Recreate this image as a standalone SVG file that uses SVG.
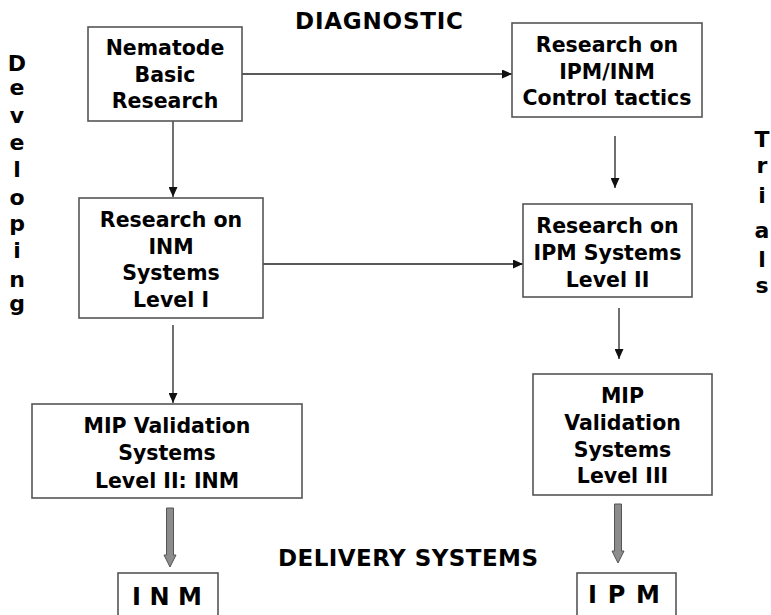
<svg xmlns="http://www.w3.org/2000/svg" width="771" height="615" viewBox="0 0 771 615">
<style>
.box{fill:#fff;stroke:#555;stroke-width:1.6}
.t{font-family:"DejaVu Sans","Verdana",sans-serif;font-weight:bold;font-size:20.5px;fill:#000;text-anchor:middle}
.big{font-size:24px}
.title{font-size:23px}
.vl{font-family:"DejaVu Sans",sans-serif;font-weight:bold;font-size:22px;fill:#000;text-anchor:middle}
.ln{stroke:#222;stroke-width:1.3;fill:none;marker-end:url(#ah)}
.garrow{fill:#8c8c8c;stroke:#555;stroke-width:1}
</style>
<defs>
<marker id="ah" markerUnits="userSpaceOnUse" markerWidth="10" markerHeight="9" refX="10" refY="4.5" orient="auto">
<path d="M0,0 L10,4.5 L0,9 z" fill="#111"/>
</marker>
</defs>
<rect width="771" height="615" fill="#fff"/>

<text class="t title" x="379" y="29" textLength="168" lengthAdjust="spacing">DIAGNOSTIC</text>
<text class="t title" x="408" y="566" textLength="260" lengthAdjust="spacing">DELIVERY SYSTEMS</text>

<g id="developing">
<text class="vl" x="17" y="71">D</text>
<text class="vl" x="17" y="95">e</text>
<text class="vl" x="17" y="123">v</text>
<text class="vl" x="17" y="150">e</text>
<text class="vl" x="17" y="177">l</text>
<text class="vl" x="17" y="205">o</text>
<text class="vl" x="17" y="231">p</text>
<text class="vl" x="17" y="258">i</text>
<text class="vl" x="17" y="287">n</text>
<text class="vl" x="17" y="311">g</text>
</g>
<g id="trials">
<text class="vl" x="762" y="147">T</text>
<text class="vl" x="762" y="173">r</text>
<text class="vl" x="762" y="203">i</text>
<text class="vl" x="762" y="238">a</text>
<text class="vl" x="762" y="267">l</text>
<text class="vl" x="762" y="293">s</text>
</g>

<g id="connectors">
<line class="ln" x1="173" y1="121" x2="173" y2="197"/>
<line class="ln" x1="242" y1="74" x2="512" y2="74"/>
<line class="ln" x1="615" y1="136" x2="615" y2="188"/>
<line class="ln" x1="263" y1="264" x2="523" y2="264"/>
<line class="ln" x1="173" y1="325" x2="173" y2="403"/>
<line class="ln" x1="619" y1="308" x2="619" y2="359"/>
<path class="garrow" d="M166.5,508 H173.5 V555 H176 L170,567 L164,555 H166.5 Z"/>
<path class="garrow" d="M614.5,504 H621.5 V551 H624 L618,563 L612,551 H614.5 Z"/>
</g>

<g id="n1">
<rect class="box" x="88" y="27" width="154" height="94"/>
<text class="t" x="165" y="55">Nematode</text>
<text class="t" x="165" y="82">Basic</text>
<text class="t" x="165" y="108">Research</text>
</g>
<g id="n2">
<rect class="box" x="512" y="23" width="190" height="94"/>
<text class="t" x="607" y="52">Research on</text>
<text class="t" x="607" y="79">IPM/INM</text>
<text class="t" x="607" y="105">Control tactics</text>
</g>
<g id="n3">
<rect class="box" x="79" y="198" width="184" height="120"/>
<text class="t" x="171" y="227">Research on</text>
<text class="t" x="171" y="254">INM</text>
<text class="t" x="171" y="280">Systems</text>
<text class="t" x="171" y="307">Level I</text>
</g>
<g id="n4">
<rect class="box" x="523" y="204" width="169" height="93"/>
<text class="t" x="607.5" y="233">Research on</text>
<text class="t" x="607.5" y="260">IPM Systems</text>
<text class="t" x="607.5" y="287">Level II</text>
</g>
<g id="n5">
<rect class="box" x="32" y="404" width="270" height="94"/>
<text class="t" x="167" y="433">MIP Validation</text>
<text class="t" x="167" y="460">Systems</text>
<text class="t" x="167" y="488">Level II: INM</text>
</g>
<g id="n6">
<rect class="box" x="533" y="374" width="179" height="121"/>
<text class="t" x="622.5" y="403">MIP</text>
<text class="t" x="622.5" y="430">Validation</text>
<text class="t" x="622.5" y="457">Systems</text>
<text class="t" x="622.5" y="483">Level III</text>
</g>
<g id="inm">
<rect class="box" x="118" y="573" width="100" height="50"/>
<text class="t big" x="167" y="605" textLength="70" lengthAdjust="spacing">INM</text>
</g>
<g id="ipm">
<rect class="box" x="577" y="573" width="99" height="50"/>
<text class="t big" x="624" y="603" textLength="72" lengthAdjust="spacing">IPM</text>
</g>
</svg>
